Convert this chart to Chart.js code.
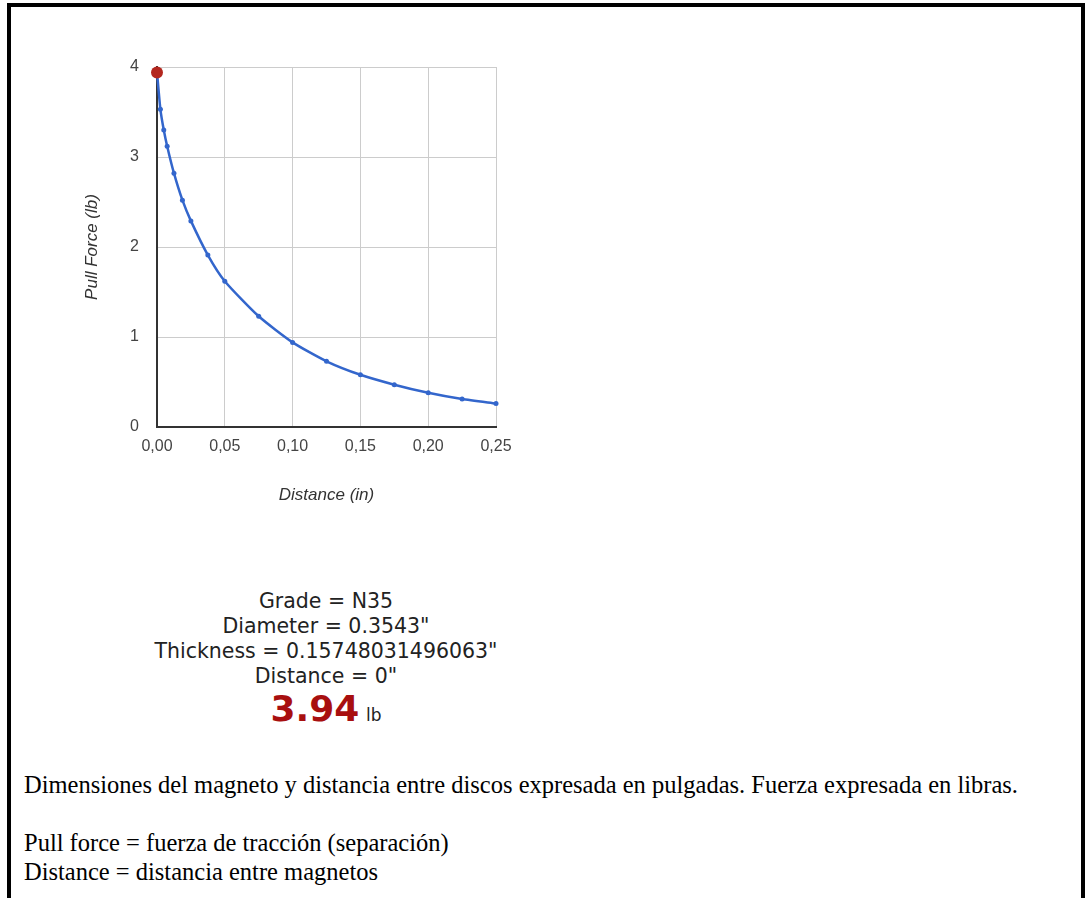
<!DOCTYPE html>
<html lang="es">
<head>
    <meta charset="UTF-8">
    <title>Pull Force vs Distance</title>
    <script src="https://cdn.jsdelivr.net/npm/chart.js"></script>
    <style>
        body {
            margin: 0;
            background: #fff;
            width: 1085px;
            height: 898px;
            overflow: hidden;
            position: relative;
        }
        .frame {
            position: absolute;
            left: 7px;
            top: 3px;
            width: 1070px;
            height: 1000px;
            border: 4px solid #000;
        }
        .chart-box {
            position: absolute;
            left: 0;
            top: 0;
        }
        .result {
            position: absolute;
            left: 0;
            top: 589px;
            width: 652px;
            text-align: center;
            font-family: "DejaVu Sans", Verdana, sans-serif;
            font-size: 20.5px;
            line-height: 25px;
            color: #222;
        }
        .result .force {
            line-height: 40px;
        }
        .result .force b {
            font-size: 36px;
            color: #a80f0f;
        }
        .result .force span {
            font-size: 17px;
        }
        .notes {
            position: absolute;
            left: 24px;
            top: 770px;
            font-family: "Liberation Serif", "Times New Roman", serif;
            font-size: 24.5px;
            line-height: 29px;
            color: #000;
        }
    </style>
</head>
<body>

    <div class="frame"></div>

    <div class="chart-box">
        <canvas id="pullChart" width="540" height="520"></canvas>
    </div>

    <div class="result">
        <div>Grade = N35</div>
        <div>Diameter = 0.3543"</div>
        <div>Thickness = 0.15748031496063"</div>
        <div>Distance = 0"</div>
        <div class="force"><b>3.94</b> <span>lb</span></div>
    </div>

    <div class="notes">
        Dimensiones del magneto y distancia entre discos expresada en pulgadas. Fuerza expresada en libras.<br>
        <br>
        Pull force = fuerza de tracción (separación)<br>
        Distance = distancia entre magnetos
    </div>

    <script>
        // distance between magnets (in) and pull force (lb)
        const distances = [0, 0.0025, 0.005, 0.0075, 0.0125, 0.01875, 0.025, 0.0375, 0.05,
                           0.075, 0.1, 0.125, 0.15, 0.175, 0.2, 0.225, 0.25];
        const pullForce = [3.94, 3.53, 3.30, 3.12, 2.82, 2.52, 2.29, 1.91, 1.62,
                           1.23, 0.94, 0.73, 0.58, 0.47, 0.38, 0.31, 0.26];
        const selectedIndex = 0;   // current distance = 0"

        const xTicks = [0, 0.05, 0.10, 0.15, 0.20, 0.25];
        const yTicks = [0, 1, 2, 3, 4];

        const points = distances.map((d, i) => ({ x: d, y: pullForce[i] }));

        const tickFont = { family: "Arial, 'Liberation Sans', sans-serif", size: 16 };
        const titleFont = { family: "Arial, 'Liberation Sans', sans-serif", size: 17, style: "italic" };

        let ctx = document.getElementById("pullChart").getContext("2d");
        let pullChart = new Chart(ctx, {
            type: "scatter",
            data: {
                datasets: [{
                    data: points,
                    showLine: true,
                    borderColor: "#3366cc",
                    borderWidth: 2.5,
                    tension: 0.2,
                    clip: false,
                    pointRadius: points.map((p, i) => i === selectedIndex ? 6 : 2.5),
                    pointHoverRadius: points.map((p, i) => i === selectedIndex ? 6 : 2.5),
                    pointBackgroundColor: points.map((p, i) => i === selectedIndex ? "#b3261e" : "#3366cc"),
                    pointBorderWidth: 0
                }]
            },
            options: {
                responsive: false,
                animation: false,
                layout: { padding: { left: 77.6, top: 67, right: 44, bottom: 10.6 } },
                plugins: {
                    legend: { display: false },
                    tooltip: { enabled: false }
                },
                scales: {
                    x: {
                        type: "linear",
                        min: 0,
                        max: 0.25,
                        afterBuildTicks: axis => { axis.ticks = xTicks.map(v => ({ value: v })); },
                        afterFit: axis => { axis.height = 82.4; },
                        ticks: {
                            font: tickFont,
                            color: "#444",
                            padding: 10,
                            callback: v => v.toFixed(2).replace(".", ",")
                        },
                        grid: { color: "#cccccc", drawTicks: false },
                        border: { color: "#333", width: 2 },
                        title: { display: true, text: "Distance (in)", font: titleFont, color: "#333" }
                    },
                    y: {
                        min: 0,
                        max: 4,
                        afterBuildTicks: axis => { axis.ticks = yTicks.map(v => ({ value: v })); },
                        afterFit: axis => { axis.width = 79.4; },
                        ticks: { font: tickFont, color: "#444", padding: 18 },
                        grid: { color: "#cccccc", drawTicks: false },
                        border: { color: "#333", width: 2 },
                        title: { display: true, text: "Pull Force (lb)", font: titleFont, color: "#333" }
                    }
                }
            }
        });
    </script>

</body>
</html>
